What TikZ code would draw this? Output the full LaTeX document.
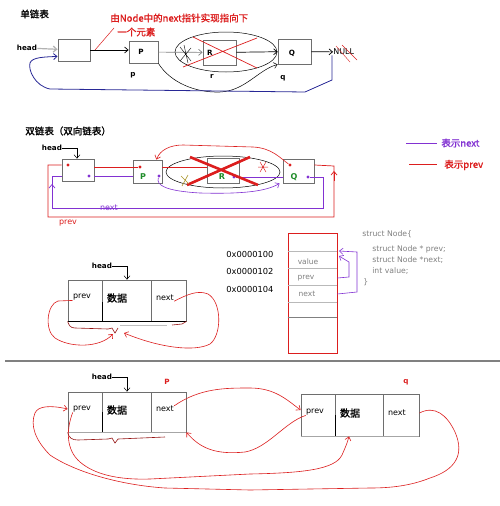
\documentclass[tikz,border=0pt]{standalone}
\usepackage{fontspec}
\setmainfont{DejaVu Sans}
\newfontfamily\cjk{Noto Sans CJK SC}
\newfontfamily\cjkb[FakeBold=1.2]{Noto Sans CJK SC}
\usetikzlibrary{arrows.meta,calc}
\definecolor{redc}{RGB}{220,30,30}
\definecolor{purp}{RGB}{130,50,210}
\definecolor{bluec}{RGB}{40,40,150}
\definecolor{greenc}{RGB}{30,140,40}
\definecolor{boxgray}{RGB}{110,110,110}
\definecolor{darkred}{RGB}{150,20,20}
\definecolor{olivec}{RGB}{170,150,40}
\begin{document}
\begin{tikzpicture}[x=1pt,y=-1pt,line width=0.7pt,
  bx/.style={draw=boxgray,line width=0.8pt,inner sep=0pt},
  arr/.style={-{Straight Barb[length=3.5pt,width=6pt]}},
  txt/.style={inner sep=0pt,font=\fontsize{8}{9}\selectfont},
  btxt/.style={inner sep=0pt,font=\bfseries\fontsize{7.2}{9}\selectfont},
  cjkt/.style={inner sep=0pt,font=\cjkb\fontsize{9.5}{11}\selectfont},
  dtxt/.style={inner sep=0pt,font=\cjkb\fontsize{10}{11}\selectfont},
  dotr/.style={circle,fill=redc,inner sep=0pt,minimum size=3.4pt},
  dotp/.style={circle,fill=purp,inner sep=0pt,minimum size=3.4pt},
  gtxt/.style={inner sep=0pt,text=greenc,font=\bfseries\fontsize{8}{9}\selectfont},
  sttxt/.style={inner sep=0pt,anchor=west,text=gray,font=\fontsize{7.7}{9}\selectfont},
  thin/.style={line width=0.5pt},
  rl/.style={redc,line width=0.6pt},
]
\fill[white] (0,0) rectangle (500,506);
\useasboundingbox (0,0) rectangle (500,506);

% ================= Section 1: single linked list
\node[cjkt,anchor=west] (t1) at (20,14) {单链表};
\node[cjkt,anchor=west,text=redc] (note1) at (110,18) {由Node中的next指针实现指向下};
\node[cjkt,anchor=west,text=redc] (note2) at (117,32) {一个元素};
\node[btxt] (head1) at (27,48) {head};
\node[bx,minimum width=32pt,minimum height=22pt] (s1) at (74,50) {};
\node[bx,minimum width=29pt,minimum height=22pt] (sP) at (143.5,52) {};
\node[btxt] (sPl) at (141,52) {P};
\node[btxt] (sp) at (133,75) {p};
\node[bx,minimum width=33pt,minimum height=25pt] (sR) at (219.5,52.5) {};
\node[btxt] (sRl) at (210,53) {R};
\node[btxt] (sr) at (212,76) {r};
\node[bx,minimum width=33pt,minimum height=25pt] (sQ) at (294.5,51.5) {};
\node[btxt] (sQl) at (292,53) {Q};
\node[btxt] (sq) at (283,78) {q};
\node[txt,anchor=west] (null) at (333,52) {NULL};

\coordinate (ptr) at (95,50);
\draw[redc,thin] ([xshift=-3pt,yshift=4pt]note2.west) -- (ptr);
\draw[gray!60,line width=1.2pt,arr] (head1) -- (s1);
\draw[arr] (s1.east) -- (s1.east -| sP.west);
\draw[thin] (226,52) ellipse (51 and 20);
\draw[gray,arr] (sP) -- (sR);
\draw[arr] (sR) -- (sQ);
\draw[arr] (sQ) -- (null);
\draw[redc] (193,37) -- (257,68) (183,67) -- (257,38);
\draw[line width=0.4pt] (180,47) -- (191,61) (180,61) -- (191,48) (184,45) -- (188,63);
\draw[thin,arr] (sP.south east) .. controls (170,82) and (195,93) .. (220,92) .. controls (245,91) and (258,70) .. (sQ.south west);
\draw[line width=0.4pt,redc] (336,46) -- (350,62) (342,45) -- (357,60);
\draw[bluec,line width=0.8pt,arr] ([xshift=-1pt]null.south west) -- (332,80) -- (305,92) -- (50,89)
  .. controls (35,86) and (28,70) .. (30,63) .. controls (32,57) and (45,57) .. ([yshift=5pt]s1.south west);

% ================= Section 2: doubly linked list
\node[cjkt,anchor=west] (t2) at (25,131) {双链表（双向链表）};
\node[btxt] (head2) at (52,148) {head};
\node[bx,minimum width=32pt,minimum height=22pt] (dH) at (78,170) {};
\node[bx,minimum width=29pt,minimum height=23pt] (dP) at (147.5,171.5) {};
\node[bx,minimum width=32pt,minimum height=25pt] (dR) at (223,170.5) {};
\node[bx,minimum width=31pt,minimum height=24pt] (dQ) at (298.5,171) {};
\node[gtxt] (dPl) at (143,177) {P};
\node[gtxt] (dRl) at (222,177) {R};
\node[gtxt] (dQl) at (294,177) {Q};
\node[dotr] (hr) at (68,165) {};
\node[dotp] (hp) at (89,176) {};
\node[dotr] (pr) at (140,167) {};
\node[dotp] (pp) at (159,176) {};
\node[dotp] (rp) at (234,177) {};
\node[dotr] (qr) at (290,165) {};
\node[dotp] (qp) at (308,177) {};

\draw[thin,arr] (head2.east) -| ([xshift=-1pt]dH.north);
\draw[thin] (223,172) ellipse (57 and 16);
\draw[redc] (dH.east |- pr) -- (pr);
\draw[redc] (dP.east |- pr) -- (dR.west |- pr);
\draw[purp] (dH.east |- hp) -- (dP.west |- hp);
\draw[purp] (rp) -- (dQ.west |- rp);
\draw[redc,line width=2.6pt] (190,157) -- (258,185) (187,185) -- (250,157);
\draw[rl,arr] (qr) .. controls (280,158) and (272,148) .. (253,147) -- (183,145)
  .. controls (170,145) and (160,150) .. ([xshift=-6pt]dP.north east);
\draw[purp,line width=0.6pt,arr] (pp) .. controls (156,185) and (165,191) .. (200,193)
  .. controls (240,194) and (265,192) .. ([xshift=-3pt]dQ.south west);
\draw[olivec,line width=0.6pt] (181,176) -- (189,184) (188,175) -- (182,186);
\draw[redc,line width=0.5pt] (258,167) -- (268,167) (260,162) -- (266,172) (266,162) -- (260,172);
% next loop
\draw[purp] (qp) -- (323,177) -- (323,208) -- (52,208) -- (52,176) -- (dH.west |- hp);
\draw[purp,arr] (52,193) -- (52,184);
\node[txt,text=purp] (nextlab) at (109,208) {next};
% prev loop
\draw[redc] (dH.west |- hr) -- (48,165) -- (48,217) -- (334,217) -- (334,166) -- (dQ.east |- qr);
\draw[redc,arr] (334,181) -- (334,171);
\node[txt,text=redc] (prevlab) at (68,223) {prev};
% legend
\coordinate (lga) at (406,143); \coordinate (lgb) at (437,143);
\coordinate (lgc) at (409,164); \coordinate (lgd) at (437,164);
\draw[purp] (lga) -- (lgb);
\node[cjkt,anchor=west,text=purp] (lgn) at (441,143) {表示next};
\draw[redc] (lgc) -- (lgd);
\node[cjkt,anchor=west,text=redc] (lgp) at (444,165) {表示prev};

% ================= Section 3: node layout and memory
\node[btxt] (head3) at (102,266) {head};
\node[bx,minimum width=118pt,minimum height=41pt] (n3) at (127,300.5) {};
\draw[boxgray,line width=0.8pt] (102,280) -- (102,321) (151,280) -- (151,321);
\draw[line width=0.9pt] (102,302) -- (102,321);
\draw[line width=1pt] (n3.south west) -- (n3.south east);
\node[txt] (p3) at (82,297) {prev};
\node[dtxt] (d3) at (117,298) {数据};
\node[txt] (x3) at (165,298) {next};
\draw[thin,arr] (head3.east) -| (n3.north);
\draw[rl,arr] (p3.south west) -- (58,301) .. controls (47,304) and (44,330) .. (55,338)
  .. controls (70,348) and (100,348) .. (113,334);
\draw[rl,arr] (x3.south east) .. controls (188,294) and (198,290) .. (208,294)
  .. controls (222,302) and (222,335) .. (210,344) .. controls (195,352) and (160,348) .. (124,333);
\draw[darkred,line width=0.6pt] (n3.south west) .. controls (69,325) and (70,328) .. (75,328)
  -- (108,329) -- (112,328) -- (115,333) -- (118,328);
\draw[gray!50,line width=0.6pt] (120,325) -- (167,325);
\draw[darkred,line width=0.6pt] (172,325) -- (182,324) .. controls (185,323) .. (n3.south east);

\node[txt,anchor=west,font=\fontsize{8.3}{10}\selectfont] (a1) at (226,254) {0x0000100};
\node[txt,anchor=west,font=\fontsize{8.3}{10}\selectfont] (a2) at (226,271) {0x0000102};
\node[txt,anchor=west,font=\fontsize{8.3}{10}\selectfont] (a3) at (226,289) {0x0000104};

\node[draw=redc,line width=0.8pt,minimum width=49pt,minimum height=120pt,inner sep=0pt] (mem) at (312.5,293) {};
\foreach \yy in {251,268,285,302}{
  \draw[gray!55,line width=0.6pt] (mem.west |- 0,\yy) -- (mem.east |- 0,\yy);
}
\draw[gray,line width=0.8pt] (mem.west |- 0,317) -- (mem.east |- 0,317);
\node[txt,text=gray,font=\fontsize{7.5}{9}\selectfont] (mv) at (308,262) {value};
\node[txt,text=gray,font=\fontsize{7.5}{9}\selectfont] (mp) at (306,278) {prev};
\node[txt,text=gray,font=\fontsize{7.5}{9}\selectfont] (mn) at (307,294) {next};
\draw[purp,line width=0.6pt,arr] (mem.east |- mp) -- (349,277) -- (349,262) -- (339,256);
\draw[purp,line width=0.6pt,arr] (mem.east |- mn) -- (357,292) -- (357,252) -- (339,251);

\node[sttxt] (st0) at (362,234) {struct Node\{};
\node[sttxt] (st1) at (372,249) {struct Node * prev;};
\node[sttxt] (st2) at (372,260) {struct Node *next;};
\node[sttxt] (st3) at (372,271) {int value;};
\node[sttxt] (st4) at (363,282) {\}};

\coordinate (sepa) at (5,361); \coordinate (sepb) at (500,361);
\draw[gray,line width=1.2pt] (sepa) -- (sepb);

% ================= Section 4: two nodes
\node[btxt] (head4) at (102,377) {head};
\node[bx,minimum width=118pt,minimum height=40pt] (nA) at (127,412) {};
\draw[boxgray,line width=0.8pt] (102,392) -- (102,432) (151,392) -- (151,432);
\draw[line width=0.9pt] (102,412) -- (102,432);
\draw[gray!70,line width=1.3pt] (nA.south west) -- (nA.south east);
\draw[thin,arr] (head4.east) -| (nA.north);
\node[btxt,text=redc] (Plab) at (167,382) {P};
\node[txt] (pA) at (82,409) {prev};
\node[dtxt] (dA) at (117,410) {数据};
\node[txt] (xA) at (165,409) {next};

\node[bx,minimum width=118pt,minimum height=42pt] (nB) at (360,415) {};
\draw[boxgray,line width=0.8pt] (335,394) -- (335,436) (383,394) -- (383,436);
\draw[line width=0.9pt] (335,415) -- (335,436);
\draw[gray!70,line width=1.3pt] (nB.south west) -- (nB.south east);
\node[btxt,text=redc] (qlab) at (406,382) {q};
\node[txt] (pB) at (315,412) {prev};
\node[dtxt] (dB) at (350,413) {数据};
\node[txt] (xB) at (397,413) {next};

\draw[rl,arr] (xA.north east) .. controls (200,388) and (225,388) .. (250,388)
  .. controls (275,388) and (287,400) .. ([yshift=5pt]nB.west);
\draw[rl,arr] (pB.south west) .. controls (285,422) and (268,448) .. (245,452)
  .. controls (215,455) and (200,448) .. (nA.south east);
\draw[rl,arr] (pA.south west) .. controls (66,430) and (66,450) .. (80,462)
  .. controls (95,475) and (120,480) .. (150,479) -- (250,474)
  .. controls (300,473) and (335,470) .. (342,455) .. controls (345,448) and (347,444) .. ([xshift=-11pt]nB.south);
\draw[rl,arr] (nB.east |- xB) .. controls (435,405) and (447,415) .. (455,432)
  .. controls (465,455) and (455,470) .. (430,478) .. controls (410,486) and (390,488) .. (370,488)
  -- (250,490) -- (165,488) .. controls (120,485) and (75,472) .. (50,455)
  .. controls (35,440) and (30,425) .. (35,413) .. controls (38,406) and (50,405) .. ([yshift=3pt]nA.west);
\draw[darkred,line width=0.6pt] (nA.south west) .. controls (69,438) and (72,440) .. (78,440)
  -- (108,439) -- (112,438) -- (115,443) -- (118,439) -- (165,437);
\end{tikzpicture}
\end{document}
